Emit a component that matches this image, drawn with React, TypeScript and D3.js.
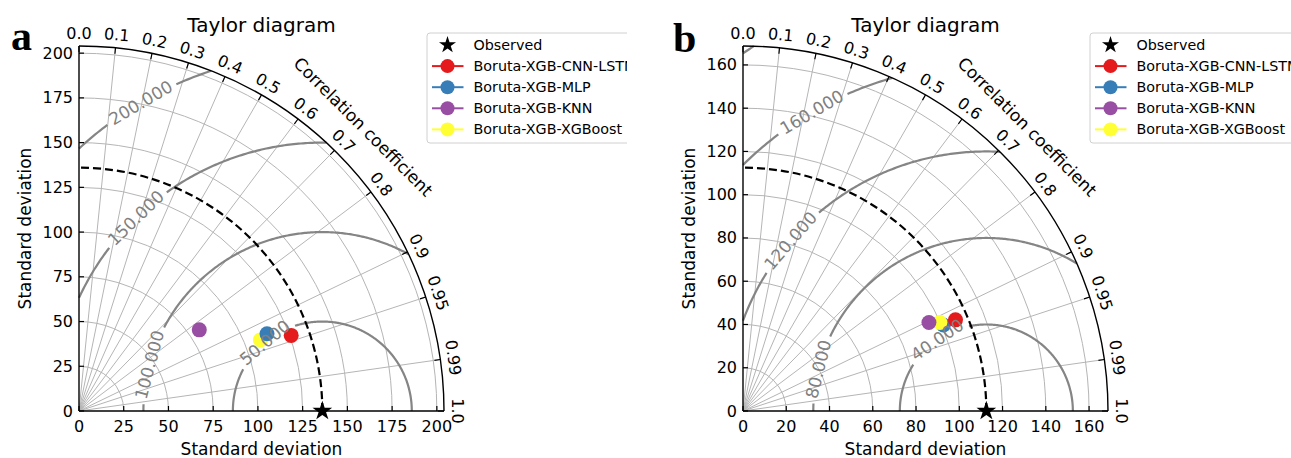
import React from 'react';
import * as d3 from 'd3';

const corrTicks = [0, 0.1, 0.2, 0.3, 0.4, 0.5, 0.6, 0.7, 0.8, 0.9, 0.95, 0.99, 1.0];
const corrTickLabels = ['0.0', '0.1', '0.2', '0.3', '0.4', '0.5', '0.6', '0.7', '0.8', '0.9', '0.95', '0.99', '1.0'];
const observedName = 'Observed';
const modelNames = ['Boruta-XGB-CNN-LSTM', 'Boruta-XGB-MLP', 'Boruta-XGB-KNN', 'Boruta-XGB-XGBoost'];
const modelColors = ['#e41a1c', '#377eb8', '#984ea3', '#ffff33'];

// Panel a
const refStdA = 136;
const stdA = [125.9, 113.6, 81.1, 108.9];
const corrA = [0.942, 0.925, 0.829, 0.931];
const stdTicksA = [0, 25, 50, 75, 100, 125, 150, 175, 200];
const rmsLevelsA = [50, 100, 150, 200, 250];
const rmsLabelsA = ['50.000', '100.000', '150.000', '200.000', ''];

// Panel b
const refStdB = 112.5;
const stdB = [106.9, 100.8, 95.2, 99.8];
const corrB = [0.919, 0.919, 0.903, 0.912];
const stdTicksB = [0, 20, 40, 60, 80, 100, 120, 140, 160];
const rmsLevelsB = [40, 80, 120, 160, 200];
const rmsLabelsB = ['40.000', '80.000', '120.000', '160.000', ''];

const W = 1291;
const H = 458;
const FONT = 'DejaVu Sans, sans-serif';

const panels = [
  {
    letter: 'a', letterX: 11, letterY: 50, ox: 79, oy: 411,
    refStd: refStdA, std: stdA, corr: corrA, stdTicks: stdTicksA,
    rmsLevels: rmsLevelsA, rmsLabels: rmsLabelsA,
    labelAngles: [130, 165, 134, 120.5, 0],
    order: [3, 0, 1, 2], legendX: 427, legendClip: 627,
  },
  {
    letter: 'b', letterX: 673, letterY: 52, ox: 743, oy: 411,
    refStd: refStdB, std: stdB, corr: corrB, stdTicks: stdTicksB,
    rmsLevels: rmsLevelsB, rmsLabels: rmsLabelsB,
    labelAngles: [124.6, 166, 139, 120.3, 0],
    order: [1, 3, 2, 0], legendX: 1090, legendClip: 1291,
  },
];

const R = 365;

function textWidth(t: string, fs: number) {
  let w = 0;
  for (const ch of t) w += ch === '.' ? 0.318 : 0.636;
  return w * fs;
}

function Panel({ p, idx }: { p: any; idx: number }) {
  const smax = 1.5 * p.refStd;
  const s = d3.scaleLinear().domain([0, smax]).range([0, R]);
  const px = (x: number, y: number): [number, number] => [p.ox + s(x), p.oy - s(y)];
  const polar = (r: number, th: number) => px(r * Math.cos(th), r * Math.sin(th));
  const line = d3.line();

  const quarter = (r: number) => {
    const path = d3.path();
    const rr = s(r);
    path.moveTo(p.ox + rr, p.oy);
    path.arc(p.ox, p.oy, rr, 0, -Math.PI / 2, true);
    return path.toString();
  };

  // RMS contours (clipped to the quarter disk)
  const contourEls: any[] = [];
  const contourLabels: any[] = [];
  const labelFs = 17;
  p.rmsLevels.forEach((lvl: number, i: number) => {
    const ref = p.refStd;
    const k = (smax * smax - ref * ref - lvl * lvl) / (2 * ref * lvl);
    if (k < -1) return;
    const phiMin = k >= 1 ? 0 : Math.acos(k);
    const phiMax = lvl > ref ? Math.acos(-ref / lvl) : Math.PI;
    if (phiMax <= phiMin) return;
    let segs: number[][] = [[phiMin, phiMax]];
    const lab = p.rmsLabels[i];
    if (lab) {
      const a = (p.labelAngles[i] * Math.PI) / 180;
      const half = (textWidth(lab, labelFs) / 2 + 5) / s(lvl);
      segs = [[phiMin, Math.min(phiMax, a - half)], [Math.max(phiMin, a + half), phiMax]].filter((sg) => sg[1] > sg[0]);
      const [lx, ly] = px(ref + lvl * Math.cos(a), lvl * Math.sin(a));
      let ang = (Math.atan2(-Math.cos(a), -Math.sin(a)) * 180) / Math.PI;
      if (ang > 90) ang -= 180;
      if (ang < -90) ang += 180;
      contourLabels.push(
        <text key={'cl' + i} x={lx} y={ly} transform={`rotate(${ang},${lx},${ly})`} textAnchor="middle"
          dominantBaseline="central" fontSize={labelFs} fill="#808080" fontFamily={FONT}>{lab}</text>
      );
    }
    segs.forEach((sg, j) => {
      const n = Math.max(2, Math.ceil(((sg[1] - sg[0]) * 180) / Math.PI * 2));
      const pts: [number, number][] = d3.range(n + 1).map((t) => {
        const ph = sg[0] + ((sg[1] - sg[0]) * t) / n;
        return px(ref + lvl * Math.cos(ph), lvl * Math.sin(ph));
      });
      contourEls.push(<path key={'c' + i + '_' + j} d={line(pts) || ''} fill="none" stroke="#858585" strokeWidth={2.2} />);
    });
  });

  const star = d3.symbol(d3.symbolStar, 120)();
  const starSmall = d3.symbol(d3.symbolStar, 90)();
  const legendRows = [45, 66.1, 87.2, 108.3, 129.4];
  const clipId = 'legclip' + idx;

  return (
    <g>
      <defs>
        <clipPath id={clipId}>
          <rect x={p.legendX - 5} y={0} width={p.legendClip - p.legendX + 5} height={H} />
        </clipPath>
      </defs>
      <text x={p.letterX} y={p.letterY} fontFamily="Liberation Serif, Times New Roman, serif" fontWeight="bold" fontSize={42}>{p.letter}</text>
      <text x={p.ox + R / 2} y={32} textAnchor="middle" fontSize={20} fontFamily={FONT}>Taylor diagram</text>

      {/* grid circles */}
      {p.stdTicks.filter((t: number) => t > 0).map((t: number) => (
        <path key={'gc' + t} d={quarter(t)} fill="none" stroke="#b5b5b5" strokeWidth={1} />
      ))}
      {/* radial grid */}
      {corrTicks.filter((c) => c > 0 && c < 1).map((c) => {
        const th = Math.acos(c);
        const [x2, y2] = polar(smax, th);
        return <line key={'gr' + c} x1={p.ox} y1={p.oy} x2={x2} y2={y2} stroke="#b5b5b5" strokeWidth={1} />;
      })}

      {contourEls}

      {/* reference dashed circle */}
      <path d={quarter(p.refStd)} fill="none" stroke="#000" strokeWidth={2.2} strokeDasharray="8,4" />

      {/* axes */}
      <line x1={p.ox} y1={p.oy} x2={p.ox + R} y2={p.oy} stroke="#000" strokeWidth={1.4} />
      <line x1={p.ox} y1={p.oy} x2={p.ox} y2={p.oy - R} stroke="#000" strokeWidth={1.4} />
      <path d={quarter(smax)} fill="none" stroke="#000" strokeWidth={1.4} />

      {/* std ticks */}
      {p.stdTicks.map((t: number) => {
        const [x] = px(t, 0);
        const [, y] = px(0, t);
        return (
          <g key={'st' + t}>
            <line x1={x} y1={p.oy} x2={x} y2={p.oy - 5} stroke="#000" strokeWidth={1.2} />
            <text x={x} y={p.oy + 21} textAnchor="middle" fontSize={16} fontFamily={FONT}>{t}</text>
            <line x1={p.ox} y1={y} x2={p.ox + 5} y2={y} stroke="#000" strokeWidth={1.2} />
            <text x={p.ox - 6} y={y} textAnchor="end" dominantBaseline="central" fontSize={16} fontFamily={FONT}>{t}</text>
          </g>
        );
      })}

      {/* correlation ticks */}
      {corrTicks.map((c, i) => {
        const th = Math.acos(c);
        const [x1, y1] = [p.ox + R * Math.cos(th), p.oy - R * Math.sin(th)];
        const [x2, y2] = [p.ox + (R - 6) * Math.cos(th), p.oy - (R - 6) * Math.sin(th)];
        const lr = R + 13;
        const lx = p.ox + lr * Math.cos(th);
        const ly = p.oy - lr * Math.sin(th);
        const rot = 90 - (th * 180) / Math.PI;
        return (
          <g key={'ct' + c}>
            <line x1={x1} y1={y1} x2={x2} y2={y2} stroke="#000" strokeWidth={1.2} />
            <text x={lx} y={ly} transform={`rotate(${rot},${lx},${ly})`} textAnchor="middle" dominantBaseline="central"
              fontSize={16} fontFamily={FONT}>{corrTickLabels[i]}</text>
          </g>
        );
      })}
      {(() => {
        const th = (45 * Math.PI) / 180;
        const lr = R + 37;
        const lx = p.ox + lr * Math.cos(th);
        const ly = p.oy - lr * Math.sin(th);
        return (
          <text x={lx} y={ly} transform={`rotate(45,${lx},${ly})`} textAnchor="middle" dominantBaseline="central"
            fontSize={17} fontFamily={FONT}>Correlation coefficient</text>
        );
      })()}

      {/* axis labels */}
      <text x={p.ox + R / 2} y={455} textAnchor="middle" fontSize={17} fontFamily={FONT}>Standard deviation</text>
      <text x={p.ox - 48} y={p.oy - R / 2} transform={`rotate(-90,${p.ox - 48},${p.oy - R / 2})`} textAnchor="middle"
        fontSize={17} fontFamily={FONT}>Standard deviation</text>

      {/* observed star */}
      <path d={star || ''} transform={`translate(${px(p.refStd, 0)[0]},${p.oy})`} fill="#000" />

      {/* model points */}
      {p.order.map((k: number) => {
        const th = Math.acos(p.corr[k]);
        const [x, y] = polar(p.std[k], th);
        return <circle key={'pt' + k} cx={x} cy={y} r={7.5} fill={modelColors[k]} />;
      })}

      {contourLabels}

      {/* legend */}
      <g clipPath={`url(#${clipId})`}>
        <rect x={p.legendX} y={33} width={230} height={110} rx={3} fill="#fff" stroke="#d0d0d0" strokeWidth={1} />
        <path d={starSmall || ''} transform={`translate(${p.legendX + 20.5},${legendRows[0]})`} fill="#000" />
        <text x={p.legendX + 46.5} y={legendRows[0]} dominantBaseline="central" fontSize={14.3} fontFamily={FONT}>{observedName}</text>
        {modelNames.map((nm, k) => (
          <g key={'lg' + k}>
            <line x1={p.legendX + 5} x2={p.legendX + 36.5} y1={legendRows[k + 1]} y2={legendRows[k + 1]} stroke={modelColors[k]} strokeWidth={2} />
            <circle cx={p.legendX + 20.5} cy={legendRows[k + 1]} r={7} fill={modelColors[k]} />
            <text x={p.legendX + 46.5} y={legendRows[k + 1]} dominantBaseline="central" fontSize={14.3} fontFamily={FONT}>{nm}</text>
          </g>
        ))}
      </g>
    </g>
  );
}

export default function App() {
  return (
    <svg width={W} height={H} viewBox={`0 0 ${W} ${H}`} style={{ position: 'absolute', left: 0, top: 0, background: '#fff' }}>
      <rect x={0} y={0} width={W} height={H} fill="#fff" />
      {panels.map((p, i) => (
        <Panel key={p.letter} p={p} idx={i} />
      ))}
    </svg>
  );
}
